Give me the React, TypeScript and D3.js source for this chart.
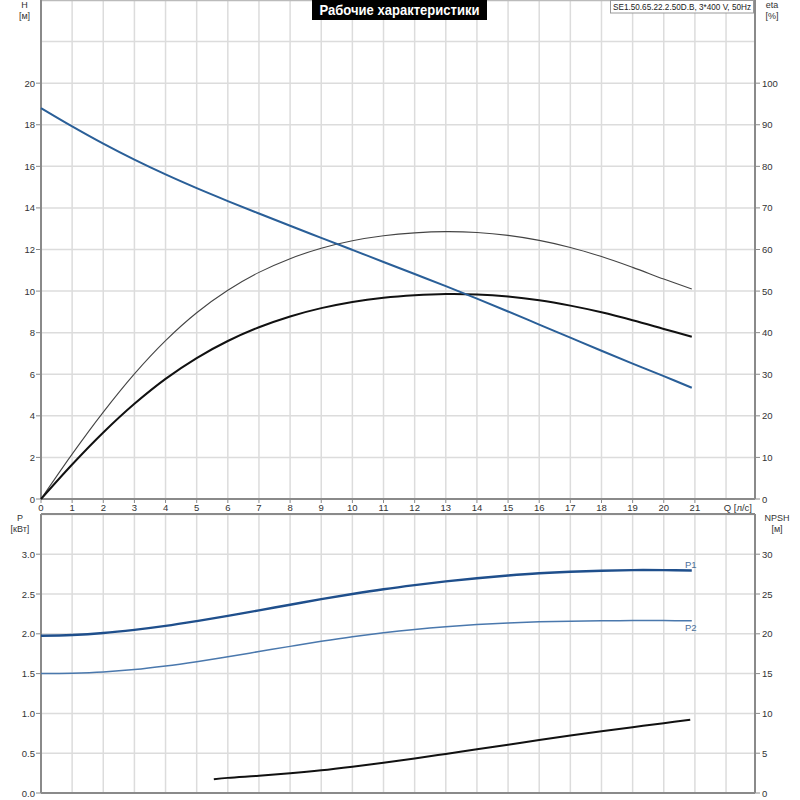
import React from "react";
import * as d3 from "d3";

const qH = [0, 1, 2, 3, 4, 5, 6, 7, 8, 9, 10, 11, 12, 13, 14, 15, 16, 17, 18, 19, 20, 20.9];
const headH = [18.8, 17.92, 17.09, 16.32, 15.61, 14.95, 14.33, 13.73, 13.14, 12.56, 11.98, 11.4, 10.82, 10.24, 9.64, 9.02, 8.39, 7.76, 7.13, 6.51, 5.91, 5.35];
const etaPump = [0, 10.8, 20.9, 30.1, 38.1, 44.8, 50.2, 54.5, 57.8, 60.3, 62.1, 63.3, 64.0, 64.3, 64.1, 63.4, 62.2, 60.5, 58.3, 55.7, 52.9, 50.5];
const etaTotal = [0, 8.3, 16.0, 22.9, 28.9, 33.9, 38.0, 41.3, 43.9, 45.9, 47.4, 48.4, 49.0, 49.3, 49.2, 48.7, 47.8, 46.5, 44.9, 43.0, 40.9, 39.0];
const powerP1 = [1.975, 1.985, 2.01, 2.05, 2.1, 2.16, 2.225, 2.295, 2.365, 2.435, 2.5, 2.56, 2.612, 2.658, 2.698, 2.732, 2.76, 2.78, 2.793, 2.8, 2.8, 2.795];
const powerP2 = [1.5, 1.505, 1.52, 1.55, 1.595, 1.65, 1.712, 1.777, 1.842, 1.905, 1.963, 2.013, 2.055, 2.089, 2.116, 2.136, 2.15, 2.159, 2.164, 2.166, 2.166, 2.163];
const qNpsh = [5.55, 6, 7, 8, 9, 10, 11, 12, 13, 14, 15, 16, 17, 18, 19, 20, 20.85];
const npsh = [1.72, 1.9, 2.17, 2.48, 2.85, 3.3, 3.8, 4.34, 4.91, 5.49, 6.07, 6.65, 7.21, 7.75, 8.27, 8.77, 9.2];

const qTicks = d3.range(0, 22);
const hTicks = d3.range(0, 21, 2);
const etaTicks = d3.range(0, 101, 10);
const pTicks = d3.range(0, 3.01, 0.5);
const npshTicks = d3.range(0, 31, 5);

const title = "Рабочие характеристики";
const model = "SE1.50.65.22.2.50D.B, 3*400 V, 50Hz";

export default function App() {
  const L = 41, R = 755;
  const x = d3.scaleLinear().domain([0, 22.93]).range([L, R]);
  const yH = d3.scaleLinear().domain([0, 24]).range([499, 0]);
  const yEta = d3.scaleLinear().domain([0, 120]).range([499, 0]);
  const yP = d3.scaleLinear().domain([0, 3.5]).range([793, 514.4]);
  const yN = d3.scaleLinear().domain([0, 35]).range([793, 514.4]);

  const mk = (xs: number[], ys: number[], sy: d3.ScaleLinear<number, number>) =>
    d3.line<number>().x((_, i) => x(xs[i])).y((v) => sy(v)).curve(d3.curveCatmullRom.alpha(0.5))(ys) || "";

  const grid = "#dcdcdc";
  const axis = "#8a8a8a";
  const font = "Liberation Sans, Arial, sans-serif";
  const txt = "#333";
  const vGrid = d3.range(1, 23);
  const hGridTop = d3.range(2, 25, 2);
  const hGridBot = d3.range(0.5, 3.51, 0.5);

  return (
    <svg width={800} height={800} style={{ position: "absolute", left: 0, top: 0, background: "#fff" }} fontFamily={font}>
      <rect x={0} y={0} width={800} height={800} fill="#fff" />
      {vGrid.map((q) => (
        <g key={"vg" + q}>
          <line x1={x(q)} x2={x(q)} y1={0} y2={499} stroke={grid} strokeWidth={1.5} />
          <line x1={x(q)} x2={x(q)} y1={514} y2={793} stroke={grid} strokeWidth={1.5} />
        </g>
      ))}
      {hGridTop.map((h) => (
        <line key={"hg" + h} x1={L} x2={R} y1={yH(h)} y2={yH(h)} stroke={grid} strokeWidth={1.5} />
      ))}
      {hGridBot.map((p) => (
        <line key={"pg" + p} x1={L} x2={R} y1={yP(p)} y2={yP(p)} stroke={grid} strokeWidth={1.5} />
      ))}
      <line x1={L} x2={R} y1={0.5} y2={0.5} stroke="#bbb" strokeWidth={1.5} />

      <line x1={L} x2={L} y1={0} y2={499} stroke={axis} strokeWidth={2} />
      <line x1={R} x2={R} y1={0} y2={499} stroke={axis} strokeWidth={2} />
      <line x1={L} x2={R} y1={499} y2={499} stroke={axis} strokeWidth={2} />
      <line x1={L} x2={L} y1={514} y2={793} stroke={axis} strokeWidth={2} />
      <line x1={R} x2={R} y1={514} y2={793} stroke={axis} strokeWidth={2} />
      <line x1={L} x2={R} y1={514} y2={514} stroke={axis} strokeWidth={2} />
      <line x1={L} x2={R} y1={793} y2={793} stroke={axis} strokeWidth={2} />

      {hTicks.map((h) => (
        <g key={"ht" + h}>
          <line x1={L - 5} x2={L} y1={yH(h)} y2={yH(h)} stroke={axis} />
          <text x={L - 6} y={yH(h) + 3.5} fontSize={9.5} fill={txt} textAnchor="end">{h}</text>
        </g>
      ))}
      {etaTicks.map((e) => (
        <g key={"et" + e}>
          <line x1={R} x2={R + 5} y1={yEta(e)} y2={yEta(e)} stroke={axis} />
          <text x={R + 7} y={yEta(e) + 3.5} fontSize={9.5} fill={txt}>{e}</text>
        </g>
      ))}
      {qTicks.map((q) => (
        <g key={"qt" + q}>
          <line x1={x(q)} x2={x(q)} y1={499} y2={503} stroke={axis} />
          <text x={x(q)} y={511} fontSize={9.5} fill={txt} textAnchor="middle">{q}</text>
        </g>
      ))}
      <text x={752} y={511} fontSize={9.5} fill={txt} textAnchor="end">Q [л/с]</text>

      {pTicks.map((p) => (
        <g key={"pt" + p}>
          <line x1={L - 5} x2={L} y1={yP(p)} y2={yP(p)} stroke={axis} />
          <text x={L - 6} y={yP(p) + 3.5} fontSize={9.5} fill={txt} textAnchor="end">{p.toFixed(1)}</text>
        </g>
      ))}
      {npshTicks.map((n) => (
        <g key={"nt" + n}>
          <line x1={R} x2={R + 5} y1={yN(n)} y2={yN(n)} stroke={axis} />
          <text x={R + 7} y={yN(n) + 3.5} fontSize={9.5} fill={txt}>{n}</text>
        </g>
      ))}

      <text x={24.5} y={7.5} fontSize={9} fill={txt} textAnchor="middle">H</text>
      <text x={24.5} y={19} fontSize={9} fill={txt} textAnchor="middle">[м]</text>
      <text x={772} y={7.5} fontSize={9} fill={txt} textAnchor="middle">eta</text>
      <text x={772} y={19} fontSize={9} fill={txt} textAnchor="middle">[%]</text>
      <text x={20} y={521} fontSize={9} fill={txt} textAnchor="middle">P</text>
      <text x={20} y={532} fontSize={9} fill={txt} textAnchor="middle">[кВт]</text>
      <text x={777} y={521} fontSize={9} fill={txt} textAnchor="middle">NPSH</text>
      <text x={777} y={532} fontSize={9} fill={txt} textAnchor="middle">[м]</text>

      <path d={mk(qH, etaPump, yEta)} fill="none" stroke="#444" strokeWidth={1.1} />
      <path d={mk(qH, etaTotal, yEta)} fill="none" stroke="#111" strokeWidth={2} />
      <path d={mk(qH, headH, yH)} fill="none" stroke="#2a5f98" strokeWidth={2} />

      <path d={mk(qH, powerP1, yP)} fill="none" stroke="#1f4f8c" strokeWidth={2.4} />
      <path d={mk(qH, powerP2, yP)} fill="none" stroke="#4a78ad" strokeWidth={1.5} />
      <path d={mk(qNpsh, npsh, yN)} fill="none" stroke="#111" strokeWidth={2} />
      <text x={x(20.9) - 1} y={yP(powerP1[powerP1.length - 1]) - 3} fontSize={9.5} fill="#4a6f9a" textAnchor="middle">P1</text>
      <text x={x(20.9) - 1} y={yP(powerP2[powerP2.length - 1]) + 10} fontSize={9.5} fill="#4a6f9a" textAnchor="middle">P2</text>

      <rect x={312} y={0} width={175} height={20} fill="#000" />
      <text x={399.5} y={15} fontSize={15} fill="#fff" textAnchor="middle" textLength={160} lengthAdjust="spacingAndGlyphs" fontWeight="bold">{title}</text>

      <rect x={610.5} y={0.5} width={143} height={12.5} fill="#fff" stroke="#999" strokeWidth={1} />
      <text x={682} y={10} fontSize={8.6} fill="#222" textAnchor="middle" textLength={138} lengthAdjust="spacingAndGlyphs">{model}</text>
    </svg>
  );
}
